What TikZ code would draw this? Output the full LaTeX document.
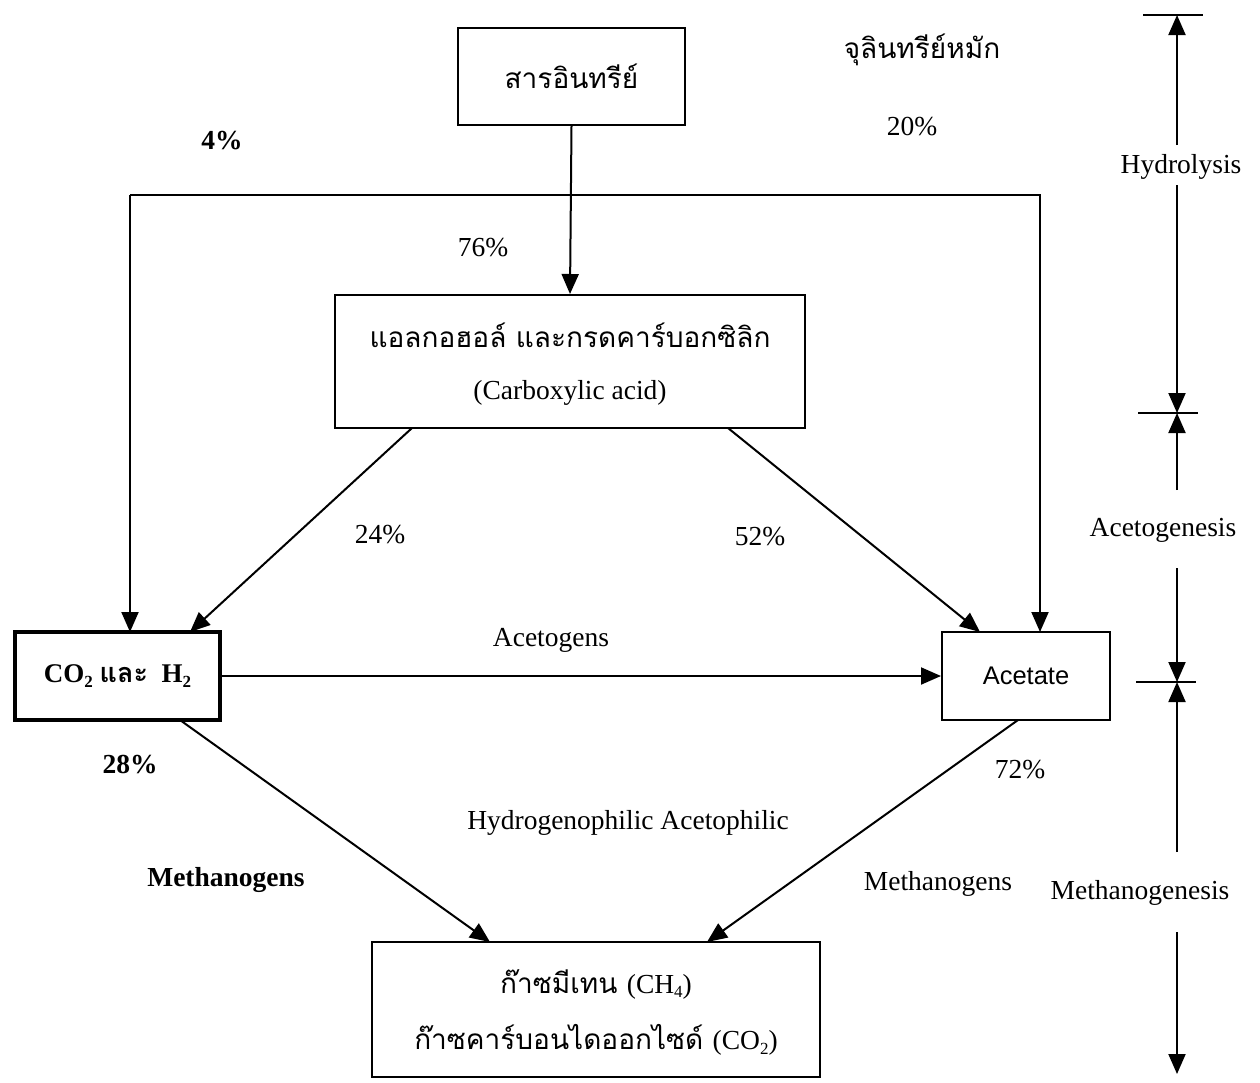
\documentclass[tikz,border=0pt]{standalone}
\usepackage{fontspec}
\setmainfont{Liberation Serif}
\newfontfamily\thai[Script=Thai]{Loma}
\newfontfamily\arialf{Liberation Sans}
\usetikzlibrary{arrows.meta}
\newcommand{\sbs}[1]{\raisebox{-0.35ex}{\fontsize{17}{20}\selectfont #1}}
\begin{document}
\begin{tikzpicture}[x=1pt,y=-1pt,
  line width=2pt,
  tip/.style={-{Triangle[length=20pt,width=17pt]}},
  box/.style={draw,line width=2pt,inner sep=0pt},
  lbl/.style={font=\fontsize{27.5}{32}\selectfont},
  lblb/.style={font=\fontsize{27.5}{32}\selectfont\bfseries},
  thaitxt/.style={font=\thai\fontsize{28}{32}\selectfont}]
\useasboundingbox (0,0) rectangle (1260,1082);
% boxes
\node[box,minimum width=227pt,minimum height=97pt,thaitxt] (org) at (571.5,76.5) {สารอินทรีย์};
\node[box,minimum width=470pt,minimum height=133pt] (acid) at (570,361.5) {};
\node[thaitxt] (acidth) at (570,335) {แอลกอฮอล์ และกรดคาร์บอกซิลิก};
\node[lbl] (acidEn) at (570,393) {(Carboxylic acid)};
\node[box,line width=3.6pt,minimum width=205pt,minimum height=88pt,font=\fontsize{27}{30}\selectfont\bfseries] (co2) at (117.5,676) {CO\sbs{2} {\thai และ}\ \ H\sbs{2}};
\node[box,minimum width=168pt,minimum height=88pt,font=\arialf\fontsize{25.5}{28}\selectfont] (acet) at (1026,676) {Acetate};
\node[box,minimum width=448pt,minimum height=135pt] (gas) at (596,1009.5) {};
\node[thaitxt] (gas1) at (596,984) {ก๊าซมีเทน {\rmfamily\fontsize{27.5}{32}\selectfont (CH\sbs{4})}};
\node[thaitxt] (gas2) at (596,1040) {ก๊าซคาร์บอนไดออกไซด์ {\rmfamily\fontsize{27.5}{32}\selectfont (CO\sbs{2})}};
% labels
\node[thaitxt] (micro) at (922,50) {จุลินทรีย์หมัก};
\node[lbl] (p20) at (912,127) {20\%};
\node[lblb] (p4) at (222,141) {4\%};
\node[lbl] (p76) at (483,248) {76\%};
\node[lbl] (p24) at (380,535) {24\%};
\node[lbl] (p52) at (760,537) {52\%};
\node[lbl] (acg) at (551,640) {Acetogens};
\node[lblb] (p28) at (130,765) {28\%};
\node[lbl] (p72) at (1020,770) {72\%};
\node[lbl] (hyd) at (628,823) {Hydrogenophilic Acetophilic};
\node[lblb] (meth1) at (226,880) {Methanogens};
\node[lbl] (meth2) at (938,884) {Methanogens};
% right scale labels
\node[lbl] (hydro) at (1181,167) {Hydrolysis};
\node[lbl] (acgen) at (1163,530) {Acetogenesis};
\node[lbl] (mgen) at (1140,893) {Methanogenesis};
% coordinates
\coordinate (t0) at (1177,15);
\coordinate (t1) at (1177,413);
\coordinate (t2) at (1177,682);
\coordinate (t3) at (1177,1074);
\coordinate (lc) at (130,195);
\coordinate (rc) at (1040,195);
% main connectors
\draw[tip] (org.south) -- (acid.north);
\draw[tip] (lc) -- (130,632);
\draw[tip] (lc) -- (rc) -- (1040,632);
\draw[tip] (412,428) -- (190,632);
\draw[tip] (728,428) -- (980,632);
\draw[tip] (co2.east) -- (acet.west);
\draw[tip] (180,720) -- (490,942);
\draw[tip] (1018,720) -- (707,942);
% right scale
\draw (1143,15) -- (1203,15);
\draw (1138,413) -- (1198,413);
\draw (1136,682) -- (1196,682);
\draw[tip] (1177,145) -- (t0);
\draw[tip] (1177,185) -- (t1);
\draw[tip] (1177,490) -- (t1);
\draw[tip] (1177,568) -- (t2);
\draw[tip] (1177,852) -- (t2);
\draw[tip] (1177,932) -- (t3);
\end{tikzpicture}
\end{document}
